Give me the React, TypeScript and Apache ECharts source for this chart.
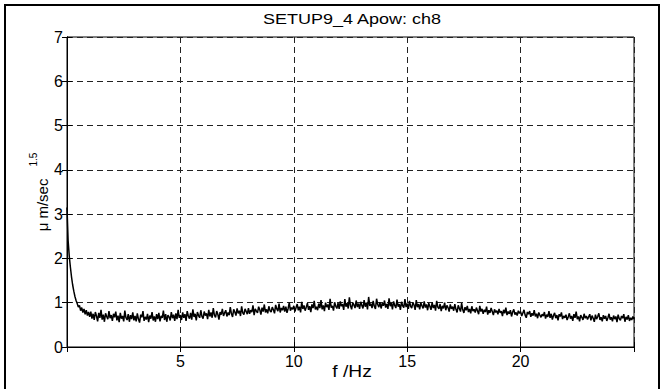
import React, { useEffect, useRef } from "react";
import * as echarts from "echarts";

const TITLE = "SETUP9_4 Apow: ch8";
const X_LABEL = "f /Hz";
const Y_LABEL = "μ m/sec";
const Y_SUP = "1.5";
const X_TICKS = [5, 10, 15, 20];
const Y_TICKS = [0, 1, 2, 3, 4, 5, 6, 7];
const F_STEP = 0.05; // frequency bin spacing, Hz

// amplitude per frequency bin (0 .. 25 Hz)
const APOW = [
  3.15, 2.40, 2.05, 1.80, 1.58, 1.40, 1.26, 1.14, 1.05, 0.98, 0.90, 0.94, 0.82, 0.89, 0.78, 0.86, 0.74, 0.83, 0.71, 0.79,
  0.68, 0.80, 0.64, 0.75, 0.61, 0.79, 0.70, 0.58, 0.77, 0.66, 0.84, 0.62, 0.73, 0.57, 0.76, 0.69, 0.63, 0.81, 0.65, 0.72,
  0.59, 0.75, 0.67, 0.80, 0.60, 0.71, 0.56, 0.77, 0.64, 0.70, 0.58, 0.82, 0.66, 0.61, 0.74, 0.57, 0.72, 0.63, 0.78, 0.60,
  0.70, 0.58, 0.76, 0.63, 0.55, 0.73, 0.67, 0.81, 0.59, 0.68, 0.62, 0.75, 0.56, 0.71, 0.64, 0.79, 0.60, 0.69, 0.57, 0.74,
  0.63, 0.77, 0.58, 0.70, 0.66, 0.82, 0.61, 0.74, 0.57, 0.72, 0.68, 0.60, 0.79, 0.65, 0.73, 0.59, 0.76, 0.63, 0.84, 0.66,
  0.72, 0.61, 0.78, 0.66, 0.74, 0.59, 0.81, 0.70, 0.64, 0.77, 0.62, 0.85, 0.68, 0.75, 0.60, 0.79, 0.71, 0.66, 0.83, 0.69,
  0.64, 0.80, 0.71, 0.76, 0.63, 0.84, 0.69, 0.78, 0.66, 0.88, 0.72, 0.67, 0.81, 0.74, 0.62, 0.79, 0.73, 0.86, 0.70, 0.77,
  0.83, 0.69, 0.78, 0.72, 0.90, 0.75, 0.68, 0.85, 0.79, 0.71, 0.87, 0.76, 0.82, 0.70, 0.92, 0.77, 0.73, 0.86, 0.80, 0.74,
  0.88, 0.75, 0.83, 0.79, 0.94, 0.72, 0.86, 0.81, 0.77, 0.91, 0.84, 0.73, 0.89, 0.80, 0.96, 0.78, 0.85, 0.76, 0.92, 0.82,
  0.79, 0.90, 0.84, 0.76, 0.95, 0.86, 0.81, 0.98, 0.78, 0.88, 0.83, 0.93, 0.80, 0.91, 0.77, 0.87, 1.00, 0.82, 0.89, 0.85,
  0.93, 0.80, 0.89, 0.97, 0.83, 0.91, 0.78, 1.02, 0.86, 0.94, 0.82, 0.90, 0.99, 0.84, 0.92, 0.79, 0.96, 0.88, 1.04, 0.85,
  0.91, 0.83, 0.98, 0.88, 1.06, 0.85, 0.94, 0.81, 1.00, 0.90, 0.96, 0.84, 1.09, 0.89, 0.93, 0.82, 1.01, 0.92, 0.87, 0.99,
  0.86, 1.03, 0.92, 0.97, 0.84, 1.08, 0.91, 0.99, 0.87, 1.12, 0.93, 0.85, 1.00, 0.95, 0.88, 1.05, 0.90, 0.98, 0.86, 1.02,
  0.94, 0.87, 1.06, 0.91, 1.00, 0.85, 1.13, 0.93, 0.98, 0.88, 1.04, 0.92, 0.86, 1.09, 0.96, 0.90, 1.01, 0.87, 0.99, 0.93,
  1.05, 0.89, 0.97, 0.86, 1.10, 0.92, 0.99, 0.85, 1.03, 0.94, 0.88, 1.07, 0.91, 0.97, 0.84, 1.02, 0.93, 0.89, 1.08, 0.90,
  0.98, 0.86, 1.04, 0.92, 0.88, 1.01, 0.95, 0.84, 1.06, 0.90, 0.97, 0.85, 1.00, 0.93, 0.87, 1.03, 0.89, 0.96, 0.83, 0.99,
  0.92, 0.84, 1.01, 0.88, 0.95, 0.82, 1.04, 0.90, 0.86, 0.97, 0.81, 0.93, 0.87, 1.00, 0.83, 0.94, 0.89, 0.80, 0.96, 0.86,
  0.91, 0.82, 0.97, 0.85, 0.78, 0.94, 0.87, 0.80, 0.99, 0.84, 0.77, 0.90, 0.83, 0.93, 0.79, 0.86, 0.76, 0.92, 0.81, 0.85,
  0.78, 0.89, 0.82, 0.74, 0.93, 0.80, 0.86, 0.75, 0.84, 0.79, 0.91, 0.73, 0.83, 0.77, 0.88, 0.80, 0.72, 0.85, 0.78, 0.82,
  0.74, 0.86, 0.77, 0.81, 0.70, 0.84, 0.76, 0.89, 0.72, 0.80, 0.75, 0.83, 0.69, 0.79, 0.85, 0.73, 0.78, 0.71, 0.82, 0.76,
  0.80, 0.70, 0.77, 0.84, 0.72, 0.66, 0.79, 0.74, 0.81, 0.68, 0.76, 0.71, 0.83, 0.69, 0.75, 0.65, 0.78, 0.72, 0.67, 0.74,
  0.70, 0.79, 0.64, 0.73, 0.68, 0.81, 0.66, 0.75, 0.62, 0.71, 0.77, 0.65, 0.72, 0.60, 0.74, 0.69, 0.78, 0.63, 0.70, 0.66,
  0.73, 0.61, 0.68, 0.76, 0.64, 0.70, 0.59, 0.74, 0.66, 0.80, 0.63, 0.69, 0.58, 0.72, 0.67, 0.61, 0.75, 0.65, 0.70, 0.62,
  0.68, 0.74, 0.60, 0.71, 0.65, 0.57, 0.73, 0.63, 0.69, 0.76, 0.61, 0.67, 0.58, 0.72, 0.64, 0.70, 0.59, 0.66, 0.75, 0.62,
  0.67, 0.58, 0.71, 0.63, 0.69, 0.56, 0.73, 0.64, 0.60, 0.70, 0.65, 0.74, 0.57, 0.68, 0.62, 0.72, 0.59, 0.66, 0.61, 0.69, 0.63,
];

const FONT = "'Liberation Sans', Arial, Helvetica, sans-serif";

export default function App() {
  const ref = useRef<HTMLDivElement>(null);

  useEffect(() => {
    if (!ref.current) return;
    const chart = echarts.init(ref.current, null, { renderer: "svg" });
    const data = APOW.map((v, i) => [+(i * F_STEP).toFixed(2), v]);

    const tickStyle = { show: true, inside: true, length: 5, lineStyle: { color: "#000", width: 1 } };
    const split = { show: true, lineStyle: { color: "#222", width: 1, type: [6, 4] as any } };

    chart.setOption({
      animation: false,
      backgroundColor: "#fff",
      grid: {
        left: 67,
        right: 30,
        top: 37,
        bottom: 42,
        show: true,
        borderColor: "#000",
        borderWidth: 1,
        backgroundColor: "transparent",
      },
      xAxis: [
        {
          type: "value",
          min: 0,
          max: 25,
          interval: 5,
          position: "bottom",
          axisLine: { show: true, onZero: false, lineStyle: { color: "#000", width: 1 } },
          axisTick: tickStyle,
          splitLine: split,
          axisLabel: {
            color: "#000",
            fontSize: 16,
            fontFamily: FONT,
            margin: 6,
            formatter: (v: number) => (X_TICKS.includes(v) ? String(v) : ""),
          },
        },
        {
          type: "value",
          min: 0,
          max: 25,
          interval: 5,
          position: "top",
          axisLine: { show: true, lineStyle: { color: "#000", width: 1 } },
          axisTick: tickStyle,
          splitLine: { show: false },
          axisLabel: { show: false },
        },
      ],
      yAxis: [
        {
          type: "value",
          min: 0,
          max: 7,
          interval: 1,
          position: "left",
          name: `{a|${Y_LABEL}}{b|${Y_SUP}}`,
          nameLocation: "middle",
          nameRotate: 90,
          nameGap: 17,
          nameMoveOverlap: false,
          nameTextStyle: {
            rich: {
              a: { fontSize: 15, fontFamily: FONT, color: "#000", lineHeight: 22, verticalAlign: "bottom" },
              b: {
                fontSize: 10,
                fontFamily: FONT,
                color: "#000",
                lineHeight: 10,
                verticalAlign: "top",
                padding: [0, 0, 0, 12],
              },
            },
          },
          axisLine: { show: true, onZero: false, lineStyle: { color: "#000", width: 1 } },
          axisTick: tickStyle,
          splitLine: split,
          axisLabel: {
            color: "#000",
            fontSize: 16,
            fontFamily: FONT,
            margin: 4,
            formatter: (v: number) => (Y_TICKS.includes(v) ? String(v) : ""),
          },
        },
        {
          type: "value",
          min: 0,
          max: 7,
          interval: 1,
          position: "right",
          axisLine: { show: true, lineStyle: { color: "#000", width: 1 } },
          axisTick: tickStyle,
          splitLine: { show: false },
          axisLabel: { show: false },
        },
      ],
      series: [
        {
          type: "line",
          data,
          xAxisIndex: 0,
          yAxisIndex: 0,
          showSymbol: false,
          symbol: "none",
          lineStyle: { color: "#000", width: 1.5 },
          z: 5,
        },
      ],
      graphic: [
        {
          type: "rect",
          shape: { x: 5, y: 5, width: 654, height: 400 },
          style: { fill: "none", stroke: "#000", lineWidth: 2 },
          silent: true,
        },
        {
          type: "text",
          x: 352,
          y: 19.5,
          scaleX: 1.2,
          style: {
            text: TITLE,
            fontSize: 15,
            fontFamily: FONT,
            fill: "#000",
            textAlign: "center",
            textVerticalAlign: "middle",
          },
        },
        {
          type: "text",
          x: 352,
          y: 372,
          scaleX: 1.2,
          style: {
            text: X_LABEL,
            fontSize: 16,
            fontFamily: FONT,
            fill: "#000",
            textAlign: "center",
            textVerticalAlign: "middle",
          },
        },
      ],
    });

    return () => chart.dispose();
  }, []);

  return <div ref={ref} style={{ width: 664, height: 389, position: "absolute", left: 0, top: 0 }} />;
}
